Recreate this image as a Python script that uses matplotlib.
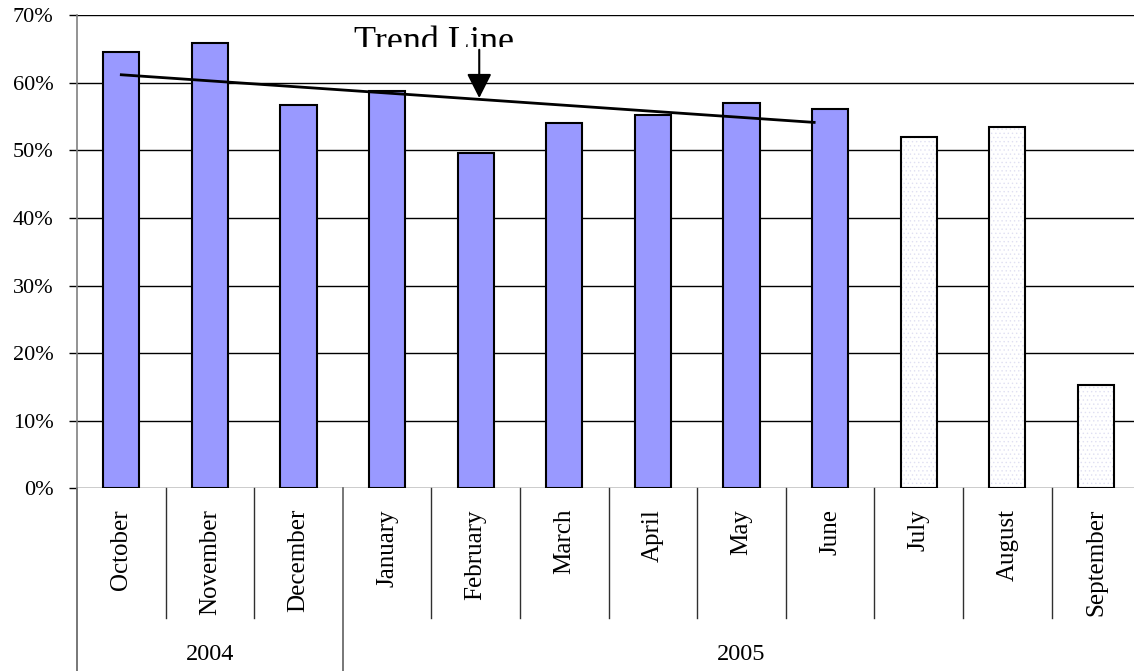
import matplotlib.pyplot as plt
from matplotlib.patches import Rectangle
from matplotlib.transforms import blended_transform_factory

# data
months = ['October', 'November', 'December', 'January', 'February', 'March',
          'April', 'May', 'June', 'July', 'August', 'September']
values = [64.5, 65.9, 56.7, 58.8, 49.6, 54.1, 55.2, 57.0, 56.1, 52.0, 53.5, 15.3]
actual = [True] * 9 + [False] * 3
years = ['2004', '2005']
year_spans = [(0, 3), (3, 12)]
trend_x = [0, 7.82]
trend_y = [61.2, 54.15]
yticks = [0, 10, 20, 30, 40, 50, 60, 70]

plt.rcParams['font.family'] = ['Liberation Serif', 'DejaVu Serif']

fig = plt.figure(figsize=(11.34, 6.71), dpi=100)
ax = fig.add_axes([77 / 1134, 1 - 488.3 / 671, 12 * 88.6 / 1134, (488.3 - 15.3) / 671])

x = list(range(len(months)))
w = 0.41

# blue bars for actual months
bx = [i for i in x if actual[i]]
bv = [values[i] for i in x if actual[i]]
ax.bar(bx, bv, width=w, color='#9999FF', edgecolor='black', linewidth=1.5, zorder=3)

# dotted light bars for the rest
px = [i for i in x if not actual[i]]
pv = [values[i] for i in x if not actual[i]]
plt.rcParams['hatch.linewidth'] = 0.5
ax.bar(px, pv, width=w, color='white', edgecolor='#e0e0f2', hatch='....', linewidth=0, zorder=3)
ax.bar(px, pv, width=w, fill=False, edgecolor='black', linewidth=1.5, zorder=4)

ax.set_xlim(-0.5, 11.5)
ax.set_ylim(0, 70)
ax.set_yticks(yticks)
ax.set_yticklabels([f'{t}%' for t in yticks], fontsize=16)
ax.tick_params(axis='y', direction='out', length=5.8, width=1, pad=11, colors='black')
ax.set_xticks([])
ax.yaxis.grid(True, color='black', linewidth=1)
ax.set_axisbelow(True)
for s in ['top', 'right', 'bottom']:
    ax.spines[s].set_visible(False)
ax.spines['left'].set_color('#808080')
ax.spines['left'].set_linewidth(1.2)

# trend line + annotation
ax.plot(trend_x, trend_y, color='black', linewidth=2, zorder=5)
ax.annotate('', xy=(4.04, 57.75), xytext=(4.04, 64.9),
            arrowprops=dict(arrowstyle='-|>,head_length=0.75,head_width=0.38',
                            mutation_scale=20, color='black', lw=1.5,
                            shrinkA=0, shrinkB=0), zorder=6)
t = ax.text(3.53, 64.7, 'Trend Line', fontsize=26, ha='center', va='baseline',
            zorder=6, clip_on=True)
clip = Rectangle((-0.5, 65.3), 12, 10, transform=ax.transData)
t.set_clip_path(clip)

# category axis: separators, month labels, year labels
tr = blended_transform_factory(ax.transData, fig.transFigure)
y0 = 1 - 488.3 / 671
y_cat = 1 - 618 / 671
bounds = [i - 0.5 for i in range(len(months) + 1)]
year_bounds = [b[0] - 0.5 for b in year_spans] + [year_spans[-1][1] - 0.5]
for b in bounds:
    if b in year_bounds:
        ax.plot([b, b], [y0, 0], transform=tr, color='#606060', lw=1.2, clip_on=False)
    else:
        ax.plot([b, b], [y0, y_cat], transform=tr, color='#303030', lw=1, clip_on=False)

for i, m in enumerate(months):
    ax.text(i, 1 - 509 / 671, m, transform=tr, rotation=90, ha='center', va='top',
            fontsize=18)

for yr, (a, b) in zip(years, year_spans):
    ax.text((a + b - 1) / 2, 1 - 655 / 671, yr, transform=tr, ha='center', va='center',
            fontsize=17.5)

fig.savefig('out.png', dpi=100)
